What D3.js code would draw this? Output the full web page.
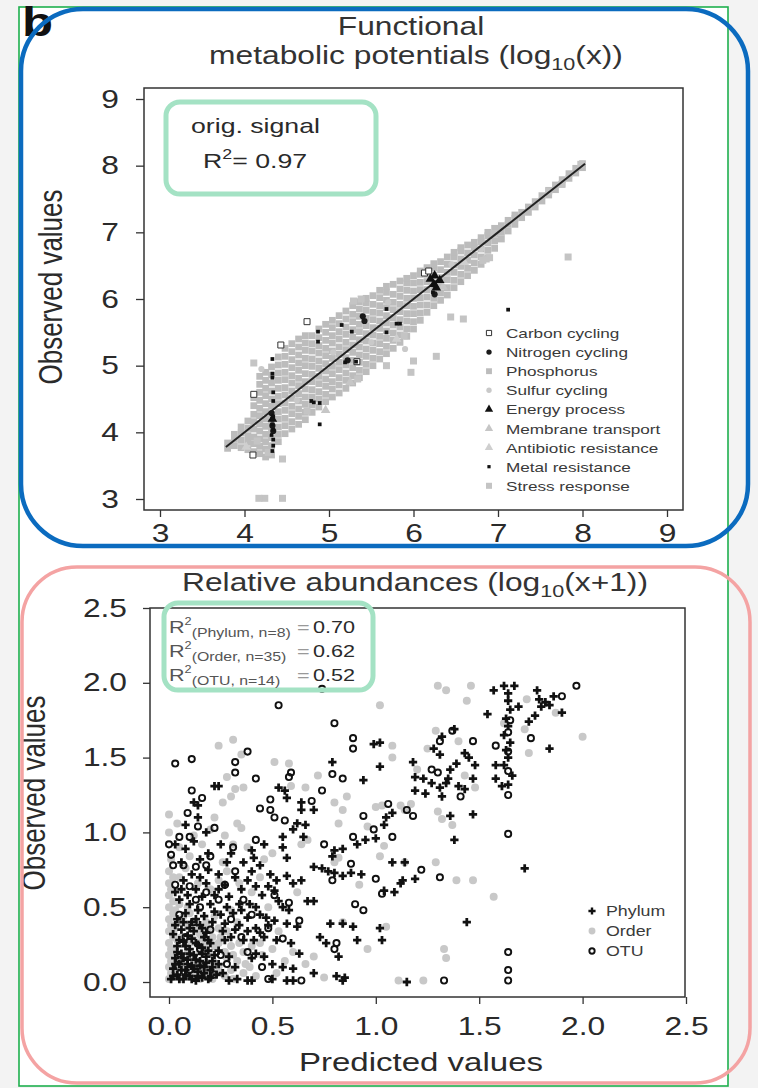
<!DOCTYPE html>
<html>
<head>
<meta charset="utf-8">
<script src="https://cdn.jsdelivr.net/npm/d3@7"></script>
<style>
body { margin: 0; background: #f3f3f3; }
svg { display: block; font-family: "Liberation Sans", Arial, sans-serif; }
</style>
</head>
<body>
<div id="fig"></div>
<script>
var w = 758, h = 1088;
var SX = 1.27; // the pasted figure is stretched sideways, text too

// ---------------- top panel: functional metabolic potentials ----------------
// [predicted, observed]
var carbonCycling = [[6.13,6.39],[4.74,5.66],[4.43,5.31],[4.11,4.57],[4.10,3.66],[5.33,5.06],[6.18,6.42]];
var nitrogenCycling = [[5.40,5.74],[5.42,5.67],[4.32,4.29],[4.33,4.10],[4.34,4.02],[6.25,6.07],[5.22,5.08]];
var sulfurCycling = [[4.62,4.48],[5.05,5.20],[5.50,5.35],[5.90,5.25],[6.80,6.75],[4.20,4.95],[5.70,5.95],[6.45,6.52]];
var energyProcess = [[6.25,6.35],[6.31,6.28],[6.20,6.30],[6.27,6.17],[6.24,6.22],[4.33,4.20]];
var membraneTransport = [[4.96,4.33],[5.25,4.75],[6.35,6.18]];
var antibioticResistance = [[4.02,3.78],[6.60,6.55],[5.80,5.40]];
var metalResistance = [[7.12,5.84],[4.87,5.51],[4.87,5.36],[5.15,5.61],[4.33,5.10],[4.33,4.88],[4.33,4.82],[4.34,4.60],
  [4.34,4.47],[4.89,4.12],[4.89,4.44],[4.82,4.45],[4.79,4.47],[5.19,5.05],[5.32,5.06],[5.68,5.50],[5.80,5.63],[5.84,5.63],
  [5.27,5.51],[5.68,5.85],[4.34,4.24],[4.33,4.19],[4.33,4.12],[4.34,4.04],[4.34,3.89],[4.32,3.96],[6.23,6.10],[6.25,6.20],
  [4.34,3.80],[4.33,3.72]];
var stressResponse = [[7.83,6.63],[6.44,5.73],[6.59,5.70],[6.27,5.14],[6.00,5.07],[5.68,5.00],[5.97,4.90],[5.34,4.80],
  [4.11,5.04],[4.24,3.01],[4.17,3.01],[4.45,3.01],[4.45,3.60],[4.28,3.70],[4.15,3.87],[4.74,4.32],[6.86,6.60],[6.90,6.62],
  [6.82,6.58],[5.29,5.97],[5.38,6.00],[5.89,5.45],[6.95,6.98],[7.60,7.62],[7.75,7.72],[7.98,8.02]];
// the dense grey band, read column by column: [predicted, [observed, ...]]
var phosphorusRows = [
  [3.80,[3.76,3.84]],
  [3.88,[3.80,3.90,3.97]],
  [3.96,[3.77,3.88,3.99,4.08]],
  [4.04,[3.74,3.85,3.95,4.06,4.17]],
  [4.11,[3.71,3.83,3.93,4.05,4.16,4.27,4.40,4.52]],
  [4.18,[3.68,3.79,3.90,4.02,4.13,4.25,4.36,4.48,4.60,4.72,4.84]],
  [4.25,[3.63,3.75,3.86,3.97,4.09,4.20,4.31,4.43,4.55,4.66,4.78,4.90]],
  [4.32,[3.66,3.80,3.92,4.04,4.15,4.27,4.39,4.50,4.62,4.74,4.86,4.98]],
  [4.40,[3.86,3.97,4.08,4.20,4.31,4.43,4.54,4.66,4.78,4.89,5.01,5.13]],
  [4.48,[3.98,4.10,4.21,4.33,4.44,4.56,4.67,4.79,4.90,5.02,5.14,5.26]],
  [4.56,[4.05,4.16,4.28,4.39,4.51,4.62,4.74,4.85,4.97,5.09,5.21,5.33]],
  [4.64,[4.12,4.24,4.35,4.47,4.58,4.70,4.81,4.93,5.04,5.16,5.28,5.40]],
  [4.72,[4.19,4.30,4.42,4.53,4.65,4.76,4.88,5.00,5.11,5.23,5.34,5.45]],
  [4.80,[4.30,4.41,4.53,4.64,4.76,4.87,4.99,5.10,5.22,5.33,5.45]],
  [4.88,[4.38,4.50,4.61,4.73,4.84,4.96,5.07,5.19,5.30,5.42,5.55]],
  [4.96,[4.46,4.57,4.69,4.80,4.92,5.03,5.15,5.26,5.38,5.50,5.62]],
  [5.04,[4.53,4.65,4.76,4.88,4.99,5.11,5.22,5.34,5.45,5.57,5.68]],
  [5.12,[4.59,4.71,4.82,4.94,5.05,5.17,5.28,5.40,5.51,5.63,5.75]],
  [5.20,[4.66,4.78,4.89,5.01,5.12,5.24,5.35,5.47,5.58,5.70,5.82]],
  [5.28,[4.74,4.85,4.97,5.08,5.20,5.31,5.43,5.54,5.66,5.77,5.90]],
  [5.36,[4.82,4.93,5.05,5.16,5.28,5.39,5.51,5.62,5.74,5.85,5.96]],
  [5.44,[4.91,5.02,5.14,5.25,5.37,5.48,5.60,5.71,5.83,5.94,6.01]],
  [5.52,[5.00,5.11,5.23,5.34,5.46,5.57,5.69,5.80,5.92,6.05]],
  [5.60,[5.10,5.21,5.33,5.44,5.56,5.67,5.79,5.90,6.02,6.13]],
  [5.68,[5.18,5.29,5.41,5.52,5.64,5.75,5.87,5.98,6.10,6.19]],
  [5.76,[5.26,5.38,5.49,5.61,5.72,5.84,5.95,6.07,6.22]],
  [5.84,[5.35,5.46,5.58,5.69,5.81,5.92,6.04,6.15,6.27]],
  [5.92,[5.44,5.55,5.67,5.78,5.90,6.01,6.13,6.24,6.31]],
  [6.00,[5.55,5.66,5.78,5.89,6.01,6.12,6.24,6.35]],
  [6.08,[5.68,5.79,5.91,6.02,6.14,6.25,6.37,6.42]],
  [6.16,[5.80,5.91,6.03,6.14,6.26,6.37,6.47]],
  [6.24,[5.90,6.01,6.13,6.24,6.36,6.47,6.53]],
  [6.32,[5.98,6.09,6.21,6.32,6.44,6.56]],
  [6.40,[6.06,6.17,6.29,6.40,6.52,6.63]],
  [6.48,[6.17,6.28,6.40,6.51,6.63,6.70]],
  [6.56,[6.26,6.37,6.49,6.60,6.72,6.77]],
  [6.64,[6.35,6.46,6.58,6.69,6.81]],
  [6.72,[6.43,6.54,6.66,6.77,6.85]],
  [6.80,[6.52,6.63,6.75,6.86,6.92]],
  [6.88,[6.62,6.73,6.84,6.95,7.00]],
  [6.96,[6.76,6.87,6.97,7.06]],
  [7.04,[6.90,7.00,7.10]],
  [7.12,[7.02,7.12,7.18]],
  [7.20,[7.12,7.21,7.26]],
  [7.28,[7.22,7.30]],
  [7.36,[7.30,7.38]],
  [7.44,[7.38,7.46]],
  [7.52,[7.47,7.55]],
  [7.60,[7.56,7.63]],
  [7.68,[7.64,7.71]],
  [7.76,[7.72,7.79]],
  [7.84,[7.81,7.88]],
  [7.92,[7.89,7.96]],
  [8.00,[7.97,8.03]]
];
var fitLine = [[3.78,3.78],[8.03,8.03]];
var topTicks = [3,4,5,6,7,8,9];

// ---------------- bottom panel: relative abundances ----------------
var phylum = [[1.57,1.95],[1.62,1.98],[1.67,1.98],[1.64,1.93],[1.64,1.88],[1.65,1.82],[1.63,1.76],[1.64,1.71],[1.62,1.65],
  [1.65,1.60],[1.63,1.55],[1.64,1.50],[1.62,1.45],[1.66,1.38],[1.64,1.32],[1.78,1.95],[1.79,1.89],[1.84,1.85],[1.82,1.87],
  [1.86,1.91],[1.90,1.80],[1.77,1.78],[1.74,1.74],[1.80,1.84],[1.54,1.79],[1.69,1.84],[1.84,1.56],[1.58,1.45],[1.58,1.36],
  [1.61,1.31],[1.38,1.69],[1.32,1.64],[1.28,1.56],[1.31,1.52],[1.43,1.53],[1.45,1.50],[1.39,1.46],[1.48,1.45],[1.36,1.42],
  [1.18,1.47],[1.19,1.37],[1.23,1.36],[1.27,1.33],[1.31,1.30],[1.34,1.33],[1.32,1.24],[1.35,1.36],[1.47,1.36],[1.43,1.29],
  [1.40,1.31],[1.19,1.28],[1.24,1.26],[1.36,1.11],[1.47,1.12],[1.38,0.95],[1.72,0.76],[1.44,0.40],[1.02,1.60],[0.99,1.59],
  [1.02,1.44],[0.79,1.47],[0.94,1.35],[0.24,1.31],[0.12,1.20],[0.14,1.18],[0.56,1.28],[0.57,1.23],[0.53,1.30],[0.64,1.20],
  [0.70,1.15],[0.64,1.15],[0.62,1.06],[0.66,1.05],[0.60,1.02],[0.65,0.97],[0.55,0.97],[0.55,0.90],[0.57,0.83],[0.41,0.83],
  [0.40,0.88],[0.46,0.92],[0.22,1.31],[0.08,0.89],[0.03,0.92],[0.77,0.74],[0.80,0.73],[0.84,0.71],[0.88,0.73],[0.93,0.72],
  [0.70,0.77],[0.74,0.76],[0.79,0.84],[0.80,0.88],[0.84,0.89],[0.91,0.92],[0.95,0.95],[1.00,0.96],[1.04,1.05],[1.05,1.10],
  [1.08,1.13],[1.08,0.80],[1.14,0.80],[1.12,0.66],[1.09,0.60],[1.13,0.68],[1.19,0.69],[1.04,0.61],[0.70,0.54],[0.67,0.54],
  [0.64,0.68],[0.60,0.66],[0.49,0.72],[0.52,0.68],[0.57,0.71],[0.48,0.64],[0.51,0.61],[0.53,0.54],[0.55,0.50],[0.58,0.48],
  [0.47,0.43],[0.51,0.41],[0.57,0.39],[0.62,0.37],[0.42,0.36],[0.46,0.30],[0.52,0.28],[0.59,0.26],[0.63,0.19],[0.42,0.19],
  [0.46,0.17],[0.50,0.12],[0.55,0.10],[0.60,0.09],[0.32,0.70],[0.27,0.65],[0.24,0.62],[0.29,0.57],[0.34,0.52],[0.38,0.43],
  [0.22,0.47],[0.27,0.39],[0.32,0.35],[0.36,0.28],[0.27,0.28],[0.24,0.21],[0.29,0.17],[0.32,0.10],[0.26,0.06],[0.29,0.01],
  [0.33,0.02],[0.38,0.01],[0.78,0.39],[0.84,0.39],[0.89,0.37],[1.02,0.36],[1.03,0.28],[0.73,0.30],[0.76,0.26],[0.82,0.17],
  [0.85,0.03],[0.81,0.04],[0.70,0.06],[0.91,0.28],[0.84,0.01],[1.15,0.00],[0.50,0.02],[0.57,0.01],[0.60,0.01],[0.40,0.16],
  [0.40,0.01],[0.01,0.02],[0.04,0.05],[0.07,0.02],[0.10,0.04],[0.13,0.01],[0.16,0.03],[0.19,0.02],[0.02,0.09],[0.05,0.12],
  [0.08,0.08],[0.11,0.11],[0.14,0.07],[0.17,0.10],[0.20,0.08],[0.03,0.16],[0.06,0.19],[0.09,0.15],[0.12,0.18],[0.15,0.14],
  [0.18,0.17],[0.21,0.14],[0.04,0.24],[0.07,0.27],[0.10,0.22],[0.13,0.26],[0.16,0.23],[0.19,0.28],[0.02,0.32],[0.06,0.35],
  [0.09,0.31],[0.12,0.34],[0.15,0.38],[0.18,0.33],[0.04,0.42],[0.08,0.46],[0.11,0.40],[0.14,0.48],[0.17,0.44],[0.05,0.55],
  [0.09,0.58],[0.13,0.62],[0.16,0.57],[0.20,0.52],[0.07,0.68],[0.11,0.72],[0.15,0.70],[0.19,0.75],[0.03,0.60],
  [0.02,0.04],[0.05,0.02],[0.08,0.05],[0.11,0.02],[0.14,0.04],[0.17,0.06],[0.20,0.03],[0.23,0.05],[0.03,0.12],[0.06,0.08],
  [0.09,0.12],[0.12,0.09],[0.15,0.11],[0.18,0.13],[0.21,0.10],[0.24,0.12],[0.04,0.20],[0.07,0.16],[0.10,0.19],[0.13,0.15],
  [0.16,0.19],[0.19,0.21],[0.22,0.18],[0.05,0.28],[0.08,0.24],[0.11,0.29],[0.14,0.25],[0.17,0.30],[0.20,0.26],[0.03,0.38],
  [0.07,0.40],[0.10,0.36],[0.13,0.42],[0.16,0.36],[0.21,0.40],[0.25,0.45],[0.28,0.50],[0.31,0.46],[0.35,0.48],[0.39,0.52],
  [0.42,0.50],[0.44,0.45],[0.26,0.34],[0.30,0.30],[0.34,0.38],[0.38,0.34],[0.41,0.28],[0.44,0.33],[0.48,0.38],[0.35,0.62],
  [0.38,0.68],[0.42,0.64],[0.45,0.58],[0.40,0.74],[0.44,0.78],[0.36,0.80],[0.06,0.62],[0.10,0.52],[0.18,0.66],[0.22,0.58],
  [0.24,0.72],[0.28,0.80],[0.30,0.86],[0.25,0.92],[0.15,0.82],[0.19,0.86],[0.06,0.80],[0.12,0.94],[0.18,1.00],[0.08,1.05],
  [0.14,1.10]];
var order = [[1.30,1.98],[1.46,1.98],[1.34,1.95],[1.44,1.88],[1.02,1.85],[2.00,1.64],[1.87,1.80],[1.73,1.89],[1.72,1.69],
  [1.62,1.73],[1.74,1.53],[1.29,1.68],[1.40,1.61],[1.25,1.56],[1.08,1.58],[1.08,1.50],[1.48,1.30],[1.43,1.38],[1.37,1.05],
  [1.30,1.14],[1.32,1.09],[1.12,1.18],[1.17,1.19],[1.14,1.15],[1.00,1.17],[1.03,1.18],[1.39,0.68],[1.47,0.68],[1.57,0.57],
  [1.29,0.80],[1.14,0.80],[1.02,0.84],[1.04,0.91],[1.33,0.22],[1.34,0.16],[1.11,0.01],[1.23,0.01],[1.05,0.37],[0.96,0.22],
  [0.70,0.17],[0.75,0.03],[0.84,0.40],[0.31,1.62],[0.51,1.47],[0.58,1.46],[0.84,1.15],[0.82,1.06],[0.00,1.12],[0.32,1.29],
  [0.36,1.30],[0.33,1.06],[0.35,1.03],[0.80,0.80],[0.82,0.83],[0.64,0.92],[0.67,0.95],[0.59,1.31],[0.31,0.92],[0.27,0.98],
  [0.44,0.70],[0.62,0.60],[0.92,0.65],[1.20,1.42],[0.22,1.10],[0.00,0.02],[0.00,0.10],[0.00,0.18],[0.00,0.26],[0.00,0.34],
  [0.00,0.42],[0.00,0.50],[0.00,0.58],[0.00,0.66],[0.00,0.74],[0.01,0.82],[0.00,1.00],[0.03,0.06],[0.03,0.20],[0.03,0.36],
  [0.03,0.48],[0.06,0.02],[0.06,0.10],[0.06,0.30],[0.06,0.40],[0.09,0.05],[0.09,0.20],[0.09,0.38],[0.09,0.50],[0.12,0.06],
  [0.12,0.14],[0.12,0.28],[0.15,0.02],[0.15,0.20],[0.15,0.32],[0.18,0.06],[0.18,0.24],[0.18,0.40],[0.21,0.02],[0.21,0.18],
  [0.21,0.30],[0.24,0.10],[0.24,0.26],[0.24,0.36],[0.27,0.04],[0.27,0.20],[0.30,0.08],[0.30,0.24],[0.30,0.48],[0.33,0.14],
  [0.33,0.40],[0.36,0.06],[0.36,0.20],[0.39,0.10],[0.42,0.04],[0.44,0.26],[0.20,0.62],[0.10,0.84],[0.16,0.92],[0.26,0.80],
  [0.05,0.90],[0.12,0.98],[0.40,0.60],[0.48,0.50],[0.56,0.14],[0.60,0.20],[0.66,0.12],[0.53,0.34],
  [0.01,0.06],[0.01,0.14],[0.01,0.22],[0.02,0.30],[0.01,0.38],[0.02,0.46],[0.02,0.54],[0.01,0.62],[0.02,0.70],[0.04,0.10],
  [0.04,0.28],[0.05,0.52],[0.07,0.14],[0.07,0.44],[0.10,0.26],[0.10,0.46],[0.13,0.10],[0.13,0.36],[0.16,0.08],[0.16,0.28],
  [0.19,0.12],[0.19,0.36],[0.22,0.24],[0.22,0.44],[0.25,0.06],[0.25,0.30],[0.28,0.16],[0.28,0.34],[0.31,0.02],[0.31,0.18],
  [0.34,0.26],[0.37,0.12],[0.40,0.24],[0.45,0.18],[0.50,0.22],[0.52,0.06],[0.05,0.70],[0.08,0.76],[0.14,0.66],[0.24,0.68],
  [0.28,0.74],[0.34,0.66],[0.38,0.90],[0.46,0.82],[0.50,0.86],[0.20,1.02],[0.04,1.06],[0.26,1.20],[0.30,1.24],[0.24,1.58],
  [0.35,1.52],[0.28,1.37],[0.66,1.30],[0.72,1.38],[0.80,1.20],[0.86,1.24],[0.96,1.04]];
var otu = [[0.74,1.96],[0.53,1.85],[0.80,1.73],[0.89,1.63],[0.89,1.56],[0.38,1.54],[0.11,1.49],[0.03,1.46],[0.32,1.47],
  [0.32,1.40],[0.59,1.40],[0.58,1.37],[0.42,1.36],[0.79,1.39],[0.84,1.36],[0.74,1.28],[0.11,1.28],[0.16,1.23],[0.09,1.13],
  [0.49,1.22],[0.69,1.21],[0.44,1.16],[0.49,1.15],[0.51,1.10],[0.56,1.08],[0.94,1.11],[1.06,1.19],[1.18,1.11],[1.15,1.15],
  [0.14,1.04],[0.22,1.03],[0.05,0.97],[0.10,0.97],[0.00,0.92],[0.01,0.85],[0.31,0.90],[0.42,0.95],[0.75,0.92],[1.08,0.97],
  [0.99,1.02],[0.89,0.97],[0.02,0.78],[0.07,0.78],[0.13,0.77],[0.18,0.78],[0.20,0.84],[0.32,0.74],[0.10,0.64],[0.13,0.55],
  [0.24,0.55],[0.51,0.58],[0.58,0.53],[0.79,0.68],[0.88,0.79],[1.00,0.69],[1.22,0.75],[1.31,0.70],[1.03,0.59],[0.90,0.52],
  [0.94,0.48],[0.63,0.41],[0.48,0.36],[0.55,0.29],[0.81,0.26],[0.80,0.22],[0.64,0.01],[0.48,0.02],[1.33,0.01],[1.64,0.20],
  [1.64,0.08],[1.64,0.01],[1.64,0.99],[1.64,1.25],[1.64,1.41],[1.64,1.54],[1.58,1.58],[1.47,1.61],[1.37,1.68],[1.31,1.61],
  [1.30,1.40],[1.27,1.42],[1.41,1.24],[1.75,1.63],[1.97,1.98],[1.90,1.91],[1.65,1.75],[1.64,1.67],[0.05,0.45],[0.12,0.40],
  [0.20,0.35],[0.08,0.30],[0.15,0.22],[0.25,0.18],[0.30,0.42],[0.35,0.30],[0.05,0.15],[0.10,0.08],[0.22,0.05],[0.28,0.12],
  [0.40,0.45],[0.38,0.20],[0.45,0.10],[0.18,0.60],[0.03,0.65],[0.27,0.65],[0.36,0.55],[0.15,0.50]];
var bottomTicks = [0, 0.5, 1, 1.5, 2, 2.5];
var r2Rows = [["(Phylum, n=8)", "0.70"], ["(Order, n=35)", "0.62"], ["(OTU, n=14)", "0.52"]];

// flatten the band columns
var phosphorus = [];
phosphorusRows.forEach(function(r) { r[1].forEach(function(y) { phosphorus.push([r[0], y]); }); });

var svg = d3.select("#fig").append("svg").attr("width", w).attr("height", h);

// white sheet with the thin green border
svg.append("rect").attr("x", 19).attr("y", 7).attr("width", 709).attr("height", 1079)
  .attr("fill", "#fff").attr("stroke", "#1fb04e").attr("stroke-width", 1.6);

// stretched text helper
function txt(g, x, y, s, size, anchor, color) {
  return g.append("text")
    .attr("transform", "translate(" + x + "," + y + ") scale(" + SX + ",1)")
    .attr("font-size", size).attr("text-anchor", anchor || "start")
    .attr("fill", color || "#2a2a2a").text(s);
}
function vtxt(g, x, y, s, size) {
  return g.append("text")
    .attr("transform", "translate(" + x + "," + y + ") rotate(-90) scale(1," + SX + ")")
    .attr("font-size", size).attr("text-anchor", "middle").attr("fill", "#2a2a2a").text(s);
}
function styleAxis(g, size, xoff) {
  g.select(".domain").remove();
  g.selectAll(".tick line").attr("stroke", "#333").attr("stroke-width", 1.3);
  g.selectAll(".tick text").attr("font-size", size).attr("fill", "#2a2a2a")
    .attr("font-family", "Liberation Sans, Arial, sans-serif")
    .attr("transform", "scale(" + SX + ",1)");
  if (xoff !== undefined) g.selectAll(".tick text").attr("x", xoff / SX);
}
function sym(d) { return d3.symbol().type(d.type).size(d.size)(); }

function drawSeries(g, s, x, y) {
  g.append("g").selectAll("path").data(s.data).enter().append("path")
    .attr("d", sym(s))
    .attr("transform", function(d) { return "translate(" + x(d[0]) + "," + y(d[1]) + ")"; })
    .attr("fill", s.fill).attr("stroke", s.stroke || "none").attr("stroke-width", s.sw || 1);
}

// ================= top panel =================
var topG = svg.append("g");
var xT = d3.scaleLinear().domain([3, 9]).range([160, 667]);
var yT = d3.scaleLinear().domain([3, 9]).range([499, 99]);

txt(topG, 22, 36, "b", 40, "start", "#111").attr("font-weight", "bold");
txt(topG, 411, 35, "Functional", 25, "middle", "#333");
var t2 = txt(topG, 416, 64, "", 25, "middle", "#333");
t2.append("tspan").text("metabolic potentials (log");
t2.append("tspan").attr("font-size", 17).attr("dy", 6).text("10");
t2.append("tspan").attr("dy", -6).text("(x))");

topG.append("g").attr("transform", "translate(0,510)")
  .call(d3.axisBottom(xT).tickValues(topTicks).tickSize(7).tickPadding(7).tickFormat(d3.format("d")))
  .call(styleAxis, 25);
topG.append("g").attr("transform", "translate(144,0)")
  .call(d3.axisLeft(yT).tickValues(topTicks).tickSize(8).tickFormat(d3.format("d")))
  .call(styleAxis, 25, -25);
vtxt(topG, 62, 287, "Observed values", 26);

var topSeries = [
  {name: "Carbon cycling", data: carbonCycling, type: d3.symbolSquare, size: 36, fill: "#fff", stroke: "#333"},
  {name: "Nitrogen cycling", data: nitrogenCycling, type: d3.symbolCircle, size: 30, fill: "#1a1a1a"},
  {name: "Phosphorus", data: phosphorus, type: d3.symbolSquare, size: 46, fill: "#bcbcbc"},
  {name: "Sulfur cycling", data: sulfurCycling, type: d3.symbolCircle, size: 30, fill: "#c9c9c9"},
  {name: "Energy process", data: energyProcess, type: d3.symbolTriangle, size: 40, fill: "#111"},
  {name: "Membrane transport", data: membraneTransport, type: d3.symbolTriangle, size: 40, fill: "#c6c6c6"},
  {name: "Antibiotic resistance", data: antibioticResistance, type: d3.symbolTriangle, size: 40, fill: "#cfcfcf"},
  {name: "Metal resistance", data: metalResistance, type: d3.symbolSquare, size: 14, fill: "#111"},
  {name: "Stress response", data: stressResponse, type: d3.symbolSquare, size: 49, fill: "#c4c4c4"}
];

// grey groups under the fit line, black ones on top
[2, 8, 3, 5, 6].forEach(function(i) { drawSeries(topG, topSeries[i], xT, yT); });
topG.append("path").datum(fitLine)
  .attr("d", d3.line().x(function(d) { return xT(d[0]); }).y(function(d) { return yT(d[1]); }))
  .attr("stroke", "#222").attr("stroke-width", 2).attr("fill", "none");
[0, 1, 4, 7].forEach(function(i) { drawSeries(topG, topSeries[i], xT, yT); });

topG.append("rect").attr("x", 144).attr("y", 88).attr("width", 539).attr("height", 422)
  .attr("fill", "none").attr("stroke", "#333").attr("stroke-width", 1.5);

// legend
topSeries.forEach(function(s, i) {
  var yy = 333 + i * 19.1;
  topG.append("path").attr("d", d3.symbol().type(s.type).size(s.size * 0.75)())
    .attr("transform", "translate(489," + yy + ")")
    .attr("fill", s.fill).attr("stroke", s.stroke || "none");
  txt(topG, 506, yy + 5, s.name, 13.5, "start", "#3a3a3a");
});

// annotation
topG.append("rect").attr("x", 166).attr("y", 102).attr("width", 210).attr("height", 92).attr("rx", 14)
  .attr("fill", "none").attr("stroke", "#a4e2c4").attr("stroke-width", 5);
txt(topG, 191, 133, "orig. signal", 21);
var r2 = txt(topG, 203, 168, "R", 21);
r2.append("tspan").attr("font-size", 14).attr("dy", -9).text("2");
r2.append("tspan").attr("dy", 9).text("= 0.97");

topG.append("rect").attr("x", 21).attr("y", 9).attr("width", 727).attr("height", 537).attr("rx", 62)
  .attr("fill", "none").attr("stroke", "#0b6bbf").attr("stroke-width", 4.5);

// ================= bottom panel =================
var botG = svg.append("g");
var xB = d3.scaleLinear().domain([0, 2.5]).range([169, 686]);
var yB = d3.scaleLinear().domain([0, 2.5]).range([982, 608]);

var t3 = txt(botG, 415, 591, "", 25, "middle", "#333");
t3.append("tspan").text("Relative abundances (log");
t3.append("tspan").attr("font-size", 17).attr("dy", 6).text("10");
t3.append("tspan").attr("dy", -6).text("(x+1))");

botG.append("g").attr("transform", "translate(0,997)")
  .call(d3.axisBottom(xB).tickValues(bottomTicks).tickSize(7).tickPadding(13).tickFormat(d3.format(".1f")))
  .call(styleAxis, 25);
botG.append("g").attr("transform", "translate(150,0)")
  .call(d3.axisLeft(yB).tickValues(bottomTicks).tickSize(7).tickFormat(d3.format(".1f")))
  .call(styleAxis, 25, -23);
vtxt(botG, 45, 793, "Observed values", 26);
txt(botG, 421, 1071, "Predicted values", 26, "middle");

var bottomSeries = [
  {name: "Phylum", data: phylum, type: d3.symbolCross, size: 38, fill: "#111"},
  {name: "Order", data: order, type: d3.symbolCircle, size: 50, fill: "#c8c8c8"},
  {name: "OTU", data: otu, type: d3.symbolCircle, size: 30, fill: "none", stroke: "#111", sw: 1.9}
];
[1, 0, 2].forEach(function(i) { drawSeries(botG, bottomSeries[i], xB, yB); });

botG.append("rect").attr("x", 150).attr("y", 608).attr("width", 535).attr("height", 389)
  .attr("fill", "none").attr("stroke", "#333").attr("stroke-width", 1.5);

bottomSeries.forEach(function(s, i) {
  var yy = 911 + i * 20;
  botG.append("path").attr("d", d3.symbol().type(s.type).size(s.size * 0.75)())
    .attr("transform", "translate(592," + yy + ")")
    .attr("fill", s.fill).attr("stroke", s.stroke || "none").attr("stroke-width", s.sw || 1);
  txt(botG, 606, yy + 5, s.name, 14, "start", "#3a3a3a");
});

// R² box
botG.append("rect").attr("x", 164).attr("y", 603).attr("width", 209).attr("height", 87).attr("rx", 14)
  .attr("fill", "none").attr("stroke", "#a4e2c4").attr("stroke-width", 5);
r2Rows.forEach(function(r, i) {
  var yy = 633 + i * 24;
  var t = txt(botG, 169, yy, "R", 17, "start", "#555");
  t.append("tspan").attr("font-size", 10).attr("dy", -8).text("2");
  t.append("tspan").attr("font-size", 12.5).attr("dy", 12).text(r[0]);
  txt(botG, 297, yy, "=", 17, "start", "#999");
  txt(botG, 313, yy, r[1], 17, "start", "#2a2a2a");
});

botG.append("rect").attr("x", 22).attr("y", 567).attr("width", 728).attr("height", 516).attr("rx", 55)
  .attr("fill", "none").attr("stroke", "#f4a3a3").attr("stroke-width", 3.5);
</script>
</body>
</html>
